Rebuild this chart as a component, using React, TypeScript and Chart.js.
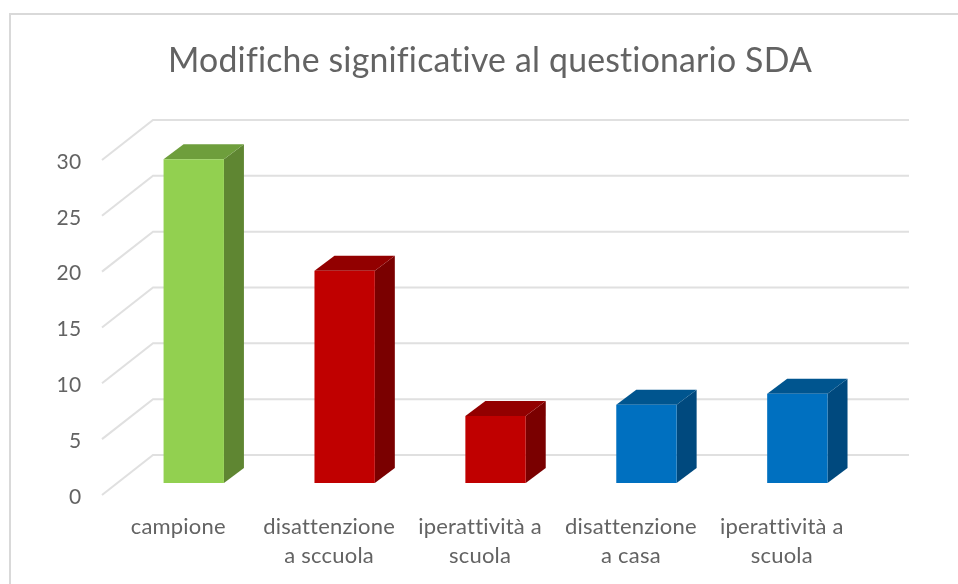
import React, { useEffect, useRef } from "react";
import { Chart, registerables } from "chart.js";

Chart.register(...registerables);

const categories: string[][] = [
  ["campione"],
  ["disattenzione", "a sccuola"],
  ["iperattività a", "scuola"],
  ["disattenzione", "a casa"],
  ["iperattività a", "scuola"],
];
const values = [29, 19, 6, 7, 8];
const frontColors = ["#92D050", "#C00000", "#C00000", "#0070C0", "#0070C0"];
const sideColors = ["#5F8632", "#7A0000", "#7A0000", "#00497E", "#00497E"];
const topColors = ["#6E9E3C", "#920000", "#920000", "#00558F", "#00558F"];
const titleText = "Modifiche significative al questionario SDA";

const DEPTH_X = 20;
const DEPTH_Y = 15;
const GRID = "#E0E0E0";
const TEXT = "#636363";
const FONT = "Lato";

const frame = {
  id: "frame",
  beforeDraw(chart: any) {
    const { ctx, width, height } = chart;
    ctx.save();
    ctx.fillStyle = "#FFFFFF";
    ctx.fillRect(0, 0, width, height);
    ctx.fillStyle = "#D9D9D9";
    ctx.fillRect(9, 13, width - 9, 2);
    ctx.fillRect(9, 13, 2, height - 13);
    ctx.restore();
    ctx.letterSpacing = "0.2px";
  },
};

const grid3d = {
  id: "grid3d",
  beforeDatasetsDraw(chart: any) {
    const { ctx, chartArea, scales } = chart;
    const y = scales.y;
    const backLeft = chartArea.left + 34.7;
    const backRight = chartArea.right + 36.2;
    const frontLeft = chartArea.left - 16.3;
    ctx.save();
    ctx.strokeStyle = GRID;
    ctx.lineWidth = 2;
    y.ticks.forEach((t: any) => {
      const p = y.getPixelForValue(t.value);
      ctx.beginPath();
      ctx.moveTo(frontLeft, p + 12);
      ctx.lineTo(backLeft, p - 28);
      ctx.lineTo(backRight, p - 28);
      ctx.stroke();
    });
    ctx.restore();
  },
};

const bars3d = {
  id: "bars3d",
  beforeDatasetsDraw(chart: any) {
    const { ctx } = chart;
    const meta = chart.getDatasetMeta(0);
    ctx.save();
    meta.data.forEach((bar: any, i: number) => {
      const { x, y, base, width } = bar.getProps(["x", "y", "base", "width"], true);
      const l = x - width / 2;
      const r = x + width / 2;
      ctx.fillStyle = sideColors[i];
      ctx.beginPath();
      ctx.moveTo(r, y);
      ctx.lineTo(r + DEPTH_X, y - DEPTH_Y);
      ctx.lineTo(r + DEPTH_X, base - DEPTH_Y);
      ctx.lineTo(r, base);
      ctx.closePath();
      ctx.fill();
      ctx.fillStyle = topColors[i];
      ctx.beginPath();
      ctx.moveTo(l, y);
      ctx.lineTo(l + DEPTH_X, y - DEPTH_Y);
      ctx.lineTo(r + DEPTH_X, y - DEPTH_Y);
      ctx.lineTo(r, y);
      ctx.closePath();
      ctx.fill();
    });
    ctx.restore();
  },
};

export default function App() {
  const ref = useRef<HTMLCanvasElement>(null);
  useEffect(() => {
    const chart = new Chart(ref.current as HTMLCanvasElement, {
      type: "bar",
      data: {
        labels: categories,
        datasets: [
          {
            data: values,
            backgroundColor: frontColors,
            borderWidth: 0,
            barPercentage: 0.4,
            categoryPercentage: 1,
            yAxisID: "y",
          },
        ],
      },
      plugins: [frame, grid3d, bars3d],
      options: {
        responsive: false,
        animation: false,
        devicePixelRatio: 1,
        layout: {
          autoPadding: false,
          padding: { left: 22, right: 0, top: 41, bottom: 0 },
        },
        plugins: {
          legend: { display: false },
          tooltip: { enabled: false },
          title: {
            display: true,
            text: titleText,
            color: TEXT,
            font: { family: FONT, size: 33.8, weight: "normal", lineHeight: 1.2 },
            padding: { top: 0, bottom: 66.4 },
          },
        },
        scales: {
          x: {
            grid: { display: false },
            border: { display: false },
            afterFit(scale: any) {
              scale.height = 101;
            },
            ticks: {
              color: TEXT,
              font: { family: FONT, size: 22, lineHeight: 1.32 },
              padding: 21,
              labelOffset: -15.5,
              maxRotation: 0,
              minRotation: 0,
              autoSkip: false,
            },
          },
          y: {
            position: "left",
            min: 0,
            max: 30,
            grid: { display: false },
            border: { display: false },
            afterFit(scale: any) {
              scale.width = 96.3;
            },
            ticks: {
              stepSize: 5,
              color: TEXT,
              font: { family: FONT, size: 21 },
              padding: 29,
              labelOffset: 14,
            },
          },
          rightMargin: {
            position: "right",
            display: true,
            grid: { display: false },
            border: { display: false },
            ticks: { display: false },
            afterFit(scale: any) {
              scale.width = 85.2;
            },
          },
        },
      } as any,
    });
    return () => chart.destroy();
  }, []);
  return (
    <div style={{ position: "fixed", left: 0, top: 0, width: 958, height: 584 }}>
      <canvas
        ref={ref}
        width={958}
        height={584}
        style={{ display: "block", filter: "blur(0.7px)" }}
      />
    </div>
  );
}
